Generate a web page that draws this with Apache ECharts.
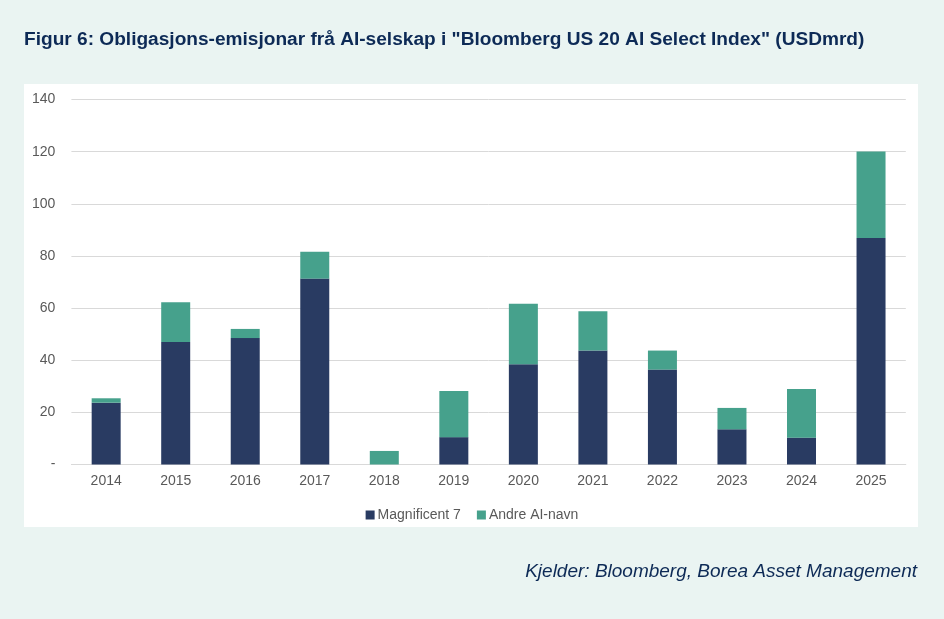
<!DOCTYPE html>
<html>
<head>
<meta charset="utf-8">
<script src="https://cdn.jsdelivr.net/npm/echarts@6/dist/echarts.min.js"></script>
<style>
  html, body { margin: 0; padding: 0; background: #eaf4f2; }
  #chart { width: 944px; height: 619px; }
</style>
</head>
<body>
<div id="chart"></div>
<script>
// år og emisjonar (USD mrd), lese av figuren
var years = ['2014', '2015', '2016', '2017', '2018', '2019', '2020', '2021', '2022', '2023', '2024', '2025'];
var mag7 = [23.7, 47.0, 48.5, 71.3, 0, 10.5, 38.5, 43.7, 36.4, 13.5, 10.3, 86.9];
var andre = [1.7, 15.2, 3.5, 10.3, 5.2, 17.7, 23.2, 15.1, 7.3, 8.2, 18.7, 33.2];

var navy = '#293b62';
var green = '#46a18c';
var labelColor = '#595959';

var myChart = echarts.init(document.getElementById('chart'));
var option = {
    backgroundColor: '#eaf4f2',
    animation: false,
    textStyle: { fontFamily: 'Liberation Sans, Arial, sans-serif' },
    title: [{
        text: 'Figur 6: Obligasjons-emisjonar frå AI-selskap i "Bloomberg US 20 AI Select Index" (USDmrd)',
        left: 19,
        top: 25,
        textStyle: { fontSize: 19.1, fontWeight: 'bold', color: '#0d2a56' }
    }, {
        text: 'Kjelder: Bloomberg, Borea Asset Management',
        right: 22,
        top: 557,
        textStyle: { fontSize: 19, fontWeight: 'normal', fontStyle: 'italic', color: '#0d2a56' }
    }],
    graphic: [{
        type: 'rect',
        z: -10,
        shape: { x: 24, y: 84, width: 894, height: 443 },
        style: { fill: '#ffffff' }
    }],
    legend: {
        top: 503,
        left: 'center',
        icon: 'rect',
        itemWidth: 9,
        itemHeight: 9,
        itemGap: 16,
        textStyle: { fontSize: 14, color: labelColor, padding: [0, 0, 0, -2] },
        data: ['Magnificent 7', 'Andre AI-navn']
    },
    grid: {
        left: 71.4,
        right: 38.2,
        top: 99.5,
        bottom: 154.5
    },
    xAxis: {
        type: 'category',
        data: years,
        axisTick: { show: false },
        axisLine: { lineStyle: { color: '#d9d9d9', width: 1 } },
        axisLabel: { fontSize: 14, color: labelColor, margin: 10 }
    },
    yAxis: {
        type: 'value',
        min: 0,
        max: 140,
        interval: 20,
        axisLine: { show: false },
        axisTick: { show: false },
        splitLine: { lineStyle: { color: '#d9d9d9', width: 1 } },
        axisLabel: {
            fontSize: 14,
            color: labelColor,
            margin: 16,
            formatter: function(v) { return v === 0 ? '-' : v; }
        }
    },
    series: [{
        name: 'Magnificent 7',
        type: 'bar',
        stack: 'tot',
        barWidth: 29,
        itemStyle: { color: navy },
        data: mag7
    }, {
        name: 'Andre AI-navn',
        type: 'bar',
        stack: 'tot',
        barWidth: 29,
        itemStyle: { color: green },
        data: andre
    }]
};
myChart.setOption(option);
</script>
</body>
</html>
